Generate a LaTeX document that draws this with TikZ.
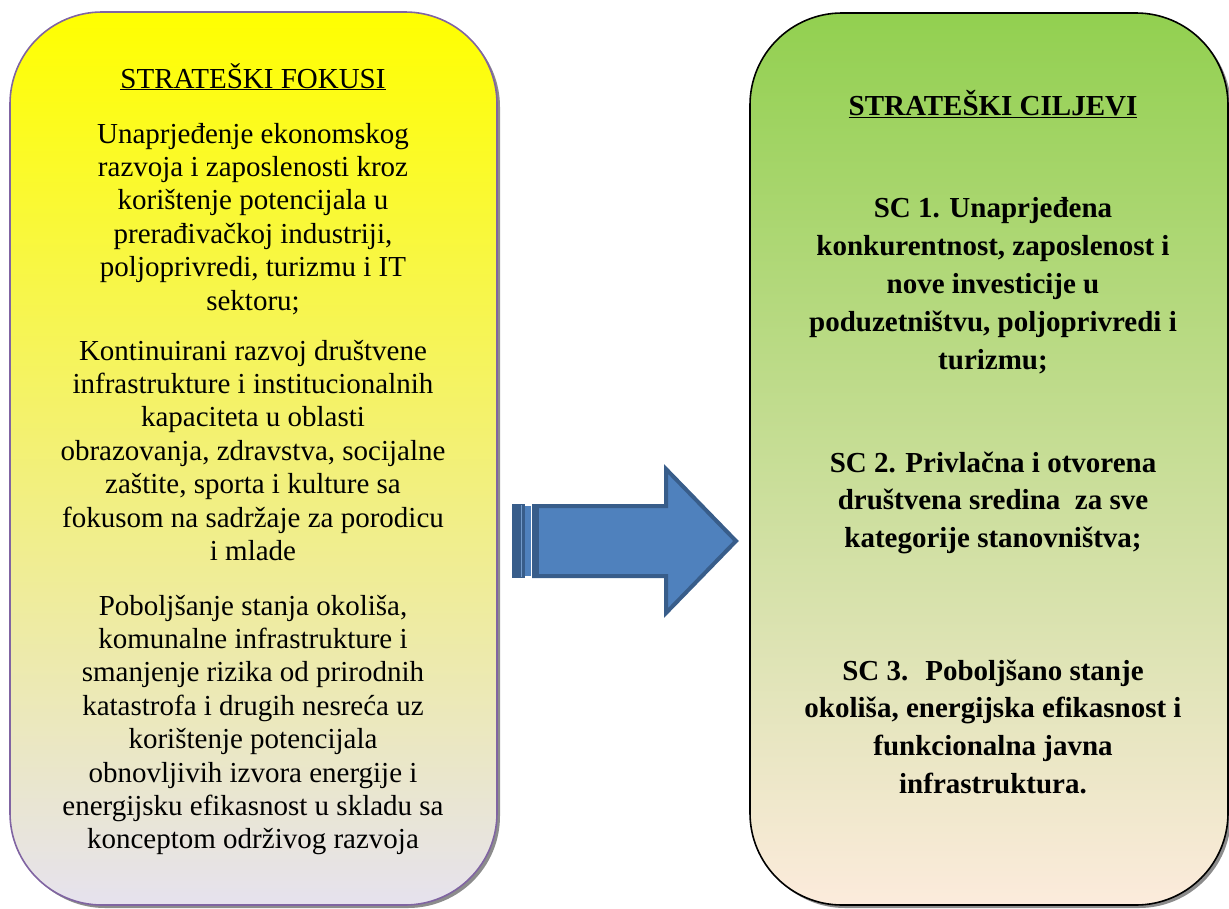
\documentclass[tikz,border=0pt]{standalone}
\usepackage{fontspec}
\setmainfont{Liberation Serif}
\usetikzlibrary{shadows}
\definecolor{ylw}{HTML}{FFFF00}
\definecolor{ylwmid}{HTML}{F4F2B2}
\definecolor{lav}{HTML}{E6E2EE}
\definecolor{grn}{HTML}{92D050}
\definecolor{grnmid}{HTML}{D4E2B0}
\definecolor{peach}{HTML}{FCEBDC}
\definecolor{purp}{HTML}{8064A2}
\definecolor{arrfill}{HTML}{4F81BD}
\definecolor{arrline}{HTML}{385D8A}
\tikzset{
  panel/.style={rectangle, rounded corners=92pt, inner sep=0pt, outer sep=0pt,
    line width=1.6pt, drop shadow={shadow xshift=3pt, shadow yshift=-3pt, fill=black!45, opacity=1}},
  lefttxt/.style={anchor=base, inner sep=0pt, font=\fontsize{29}{33}\selectfont},
  righttxt/.style={anchor=base, inner sep=0pt, font=\fontsize{29}{33}\selectfont\bfseries},
  arrowbody/.style={fill=arrfill, draw=arrline, line width=4pt, line join=miter}
}
\begin{document}
\begin{tikzpicture}[x=1pt, y=-1pt]
\useasboundingbox (0,0) rectangle (1229,908);
% panels
\node[panel, draw=purp, top color=ylw, middle color=ylwmid, bottom color=lav,
  minimum width=487pt, minimum height=893pt] (lbox) at (253.5,458.5) {};
\node[panel, draw=black, top color=grn, middle color=grnmid, bottom color=peach,
  minimum width=478pt, minimum height=892pt] (rbox) at (989,459) {};
% left titles and text
\node[lefttxt] (ltitle) at (253,88) {\underline{STRATEŠKI FOKUSI}};
\foreach \t [count=\i] in {{Unaprjeđenje ekonomskog},{razvoja i zaposlenosti kroz},{korištenje potencijala u},{prerađivačkoj industriji,},{poljoprivredi, turizmu i IT},{sektoru;}}
  \node[lefttxt] (a\i) at (253,{143+(\i-1)*33.4}) {\t};
\foreach \t [count=\i] in {{Kontinuirani razvoj društvene},{infrastrukture i institucionalnih},{kapaciteta u oblasti},{obrazovanja, zdravstva, socijalne},{zaštite, sporta i kulture sa},{fokusom na sadržaje za porodicu},{i mlade}}
  \node[lefttxt] (b\i) at (253,{360+(\i-1)*33.4}) {\t};
\foreach \t [count=\i] in {{Poboljšanje stanja okoliša,},{komunalne infrastrukture i},{smanjenje rizika od prirodnih},{katastrofa i drugih nesreća uz},{korištenje potencijala},{obnovljivih izvora energije i},{energijsku efikasnost u skladu sa},{konceptom održivog razvoja}}
  \node[lefttxt] (c\i) at (253,{615+(\i-1)*33.4}) {\t};
% right titles and text
\node[righttxt] (rtitle) at (993,115) {\underline{STRATEŠKI CILJEVI}};
\foreach \t [count=\i] in {{SC 1. Unaprjeđena},{konkurentnost, zaposlenost i},{nove investicije u},{poduzetništvu, poljoprivredi i},{turizmu;}}
  \node[righttxt] (d\i) at (993,{217+(\i-1)*38.2}) {\t};
\foreach \t [count=\i] in {{SC 2. Privlačna i otvorena},{društvena sredina~ za sve},{kategorije stanovništva;}}
  \node[righttxt] (e\i) at (993,{472+(\i-1)*37.6}) {\t};
\foreach \t [count=\i] in {{SC 3.~ Poboljšano stanje},{okoliša, energijska efikasnost i},{funkcionalna javna},{infrastruktura.}}
  \node[righttxt] (f\i) at (993,{680+(\i-1)*37.7}) {\t};
% striped block arrow
\fill[arrline] (512,504) rectangle (525,578);
\draw[arrfill!80!white, line width=0.8pt] (521.5,505) -- (521.5,577);
\fill[arrfill] (525,506) rectangle (531,576);
\draw[arrowbody] (534,506) -- (666,506) -- (666,469) -- (736,541) -- (666,613) -- (666,576) -- (534,576) -- cycle;
\fill[arrline] (532,504) rectangle (539,578);
\end{tikzpicture}
\end{document}
